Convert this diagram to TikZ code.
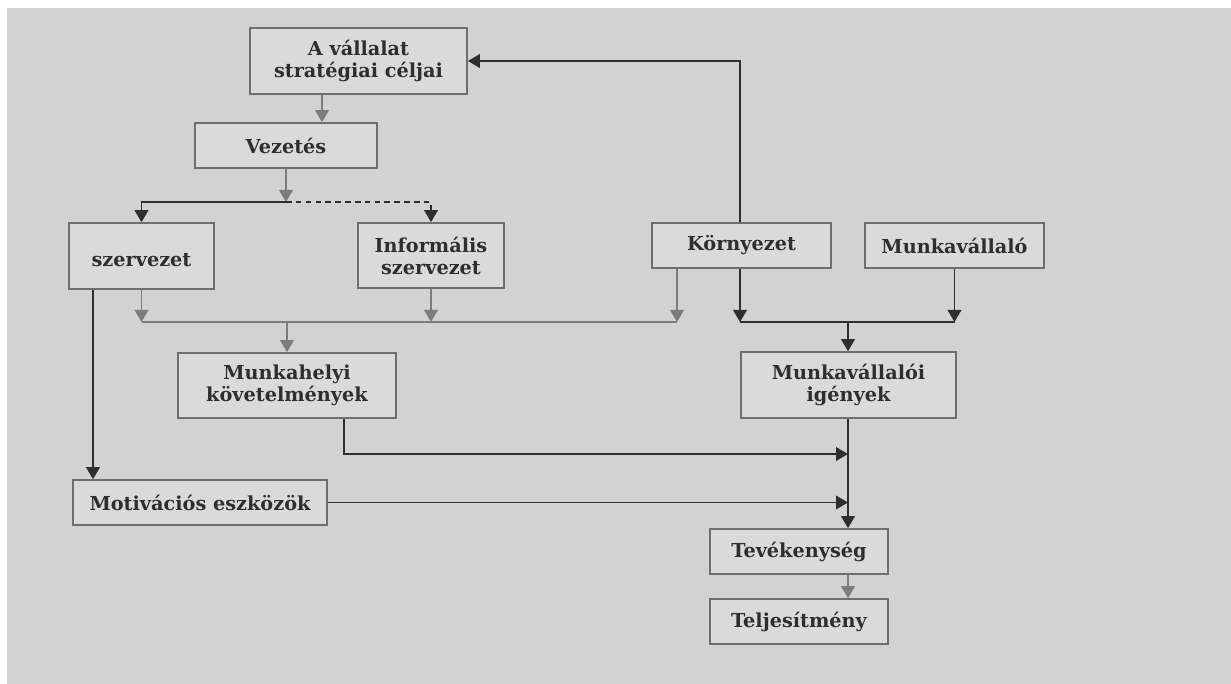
\documentclass[tikz,border=0pt]{standalone}
\usepackage{fontspec}
\setmainfont{DejaVu Serif}
\usetikzlibrary{arrows.meta}

\definecolor{paper}{HTML}{D2D2D2}
\definecolor{boxfill}{HTML}{DADADA}
\definecolor{boxline}{HTML}{6E6E6E}
\definecolor{ink}{HTML}{2E2E2E}
\definecolor{soft}{HTML}{7C7C7C}

\begin{document}
\begin{tikzpicture}[x=0.025cm, y=-0.025cm,
    box/.style={draw=boxline, fill=boxfill, line width=1.1pt, inner sep=0pt, align=center,
      text=ink, font=\fontsize{13.7}{15.6}\selectfont\bfseries},
    dark/.style={draw=ink, line width=1.3pt, -{Triangle[width=0.34cm, length=0.3cm]}},
    light/.style={draw=soft, line width=1.3pt, -{Triangle[width=0.34cm, length=0.3cm]}},
    darkline/.style={draw=ink, line width=1.3pt},
    lightline/.style={draw=soft, line width=1.3pt}]

    % Paper
    \useasboundingbox (0,0) rectangle (1231,684);
    \fill[paper] (7,8) rectangle (1231,684);

    % Top chain
    \node[box, minimum width=5.43cm, minimum height=1.65cm] (strat) at (358.5,61) {A vállalat\\stratégiai céljai};
    \node[box, minimum width=4.55cm, minimum height=1.125cm] (vez) at (286,145.5) {Vezetés};

    % Second row
    \node[box, minimum width=3.63cm, minimum height=1.65cm] (formal) at (141.5,256) {\mbox{}\\szervezet};
    \node[box, minimum width=3.65cm, minimum height=1.63cm] (inform) at (431,255.5) {Informális\\szervezet};
    \node[box, minimum width=4.48cm, minimum height=1.125cm] (korny) at (741.5,245.5) {Környezet};
    \node[box, minimum width=4.48cm, minimum height=1.125cm] (munkav) at (954.5,245.5) {Munkavállaló};

    % Requirements and needs
    \node[box, minimum width=5.45cm, minimum height=1.63cm] (mhely) at (287,385.5) {Munkahelyi\\követelmények};
    \node[box, minimum width=5.38cm, minimum height=1.65cm] (igeny) at (848.5,385) {Munkavállalói\\igények};
    \node[box, minimum width=6.35cm, minimum height=1.125cm] (motiv) at (200,502.5) {Motivációs eszközök};

    % Bottom chain
    \node[box, minimum width=4.45cm, minimum height=1.125cm] (tevek) at (799,551.5) {Tevékenység};
    \node[box, minimum width=4.45cm, minimum height=1.125cm] (telj) at (799,621.5) {Teljesítmény};

    % Junction points
    \coordinate (sv) at (322,0);
    \coordinate (split) at (286,202);
    \coordinate (fm) at (93,0);
    \coordinate (kg) at (677,0);
    \coordinate (kd) at (740,0);
    \coordinate (mh) at (344,0);
    \coordinate (busL) at (287,322);
    \coordinate (busR) at (848,322);
    \coordinate (feedA) at (848,454);

    % Goals and leadership
    \draw[light] (sv |- strat.south) -- (sv |- vez.north);
    \draw[light] (vez.south) -- (split);
    \draw[dark] (split) -| (formal.north);
    \draw[dark, dash pattern=on 4pt off 3pt] (split) -| (inform.north);
    \draw[dark] (kd |- korny.north) |- (strat.east);

    % Gray collector
    \draw[light] (formal.south) -- (formal.south |- busL);
    \draw[light] (inform.south) -- (inform.south |- busL);
    \draw[light] (kg |- korny.south) -- (kg |- busL);
    \draw[lightline] (formal.south |- busL) -- (kg |- busL);
    \draw[light] (busL) -- (busL |- mhely.north);

    % Dark collector
    \draw[dark] (kd |- korny.south) -- (kd |- busR);
    \draw[dark] (munkav.south) -- (munkav.south |- busR);
    \draw[darkline] (kd |- busR) -- (munkav.south |- busR);
    \draw[dark] (busR) -- (busR |- igeny.north);

    % Into the activity
    \draw[dark] (fm |- formal.south) -- (fm |- motiv.north);
    \draw[dark] (mh |- mhely.south) |- (feedA);
    \draw[dark] (motiv.east) -- (motiv.east -| busR);
    \draw[dark] (busR |- igeny.south) -- (busR |- tevek.north);
    \draw[light] (busR |- tevek.south) -- (busR |- telj.north);
\end{tikzpicture}
\end{document}
